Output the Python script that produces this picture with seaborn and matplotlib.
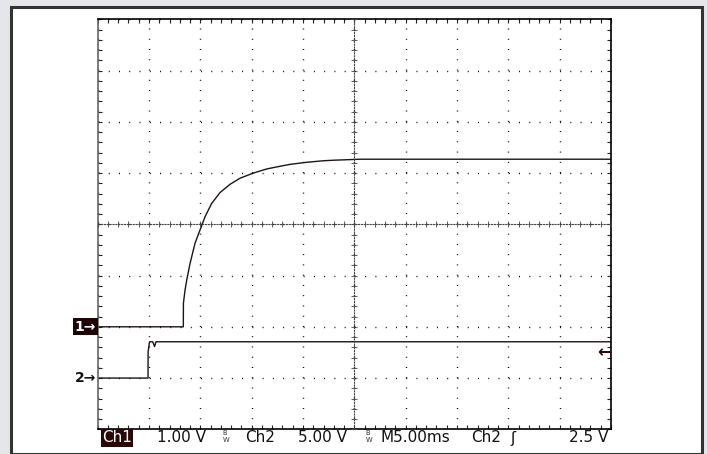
import matplotlib
matplotlib.use("Agg")
import matplotlib.pyplot as plt
import numpy as np
import pandas as pd
import seaborn as sns
from matplotlib.ticker import MultipleLocator
from matplotlib.patches import Rectangle
import matplotlib.transforms as mtransforms

# data (time in ms, volts per channel)
ch1_t = [0, 8.34, 8.35, 8.51, 8.67, 9.0, 9.48, 9.97, 10.46, 11.11, 11.92, 12.89, 13.87, 15.17,
         16.47, 17.45, 18.75, 20.37, 21.99, 22.96, 25.57, 50]
ch1_v = [0, 0, 0.46, 0.72, 0.91, 1.24, 1.63, 1.89, 2.15, 2.41, 2.62, 2.78, 2.90, 3.00,
         3.08, 3.12, 3.17, 3.21, 3.24, 3.25, 3.27, 3.27]
ch2_t = [0, 4.90, 4.91, 5.05, 5.36, 5.54, 5.68, 5.88, 50]
ch2_v = [0, 0, 2.57, 3.54, 3.54, 3.08, 3.54, 3.54, 3.54]

ch1_scale, ch2_scale = 1.00, 5.00      # V/div
ch1_pos, ch2_pos = -2, -3              # ground marker, div
trig_level = 2.5                       # V on Ch2
bottom_labels = ["1.00 V", "Ch2", "5.00 V", "M5.00ms", "Ch2", "2.5 V"]

df = pd.concat([
    pd.DataFrame({"t": ch1_t, "div": np.array(ch1_v) / ch1_scale + ch1_pos, "ch": "Ch1"}),
    pd.DataFrame({"t": ch2_t, "div": np.array(ch2_v) / ch2_scale + ch2_pos, "ch": "Ch2"}),
])

sns.set_style("white")
plt.rcParams['font.family'] = ['DejaVu Sans']

W, H = 707, 454
fig = plt.figure(figsize=(W / 100, H / 100), dpi=100)
fig.patch.set_facecolor("#e4e6e9")
# screen frame
fig.patches.append(Rectangle((11 / W, 0), (702 - 11) / W, (H - 7) / H, transform=fig.transFigure,
                             facecolor="white", edgecolor="#333333", linewidth=2.2, zorder=-10))

pos = [97.7 / W, (H - 429.3) / H, 513.3 / W, 410 / H]


def graticule(a):
    a.set_xlim(0, 50)
    a.set_ylim(-4, 4)
    a.xaxis.set_major_locator(MultipleLocator(5))
    a.xaxis.set_minor_locator(MultipleLocator(1))
    a.yaxis.set_major_locator(MultipleLocator(1))
    a.yaxis.set_minor_locator(MultipleLocator(0.2))


ax = fig.add_axes(pos)
ax.set_facecolor("none")

sns.lineplot(data=df, x="t", y="div", units="ch", estimator=None, sort=False,
             color="#1e1414", linewidth=1.0, ax=ax, legend=False)

graticule(ax)
ax.tick_params(which="both", direction="in", length=3, width=0.8, color="#222",
               top=True, right=True, bottom=True, left=True,
               labelbottom=False, labelleft=False)
ax.grid(True, which="major", linestyle=(0, (0.7, 6.685)), linewidth=1.0, color="black")
for s in ax.spines.values():
    s.set_color("black")
    s.set_linewidth(1.2)
ax.spines["left"].set_color("#666666")
ax.set_xlabel("")
ax.set_ylabel("")

# center cross of the graticule
ax2 = fig.add_axes(pos)
graticule(ax2)
ax2.patch.set_visible(False)
ax2.spines["top"].set_visible(False)
ax2.spines["right"].set_visible(False)
ax2.spines["left"].set_position(("data", 25))
ax2.spines["bottom"].set_position(("data", 0))
for s in ("left", "bottom"):
    ax2.spines[s].set_linestyle((0, (1, 1.6)))
    ax2.spines[s].set_color("#444444")
    ax2.spines[s].set_linewidth(0.8)
ax2.xaxis.set_ticks_position("bottom")
ax2.yaxis.set_ticks_position("left")
ax2.tick_params(which="both", direction="inout", length=4.5, width=0.6, color="#444",
                labelbottom=False, labelleft=False)

# channel ground markers
tr = mtransforms.blended_transform_factory(ax.transAxes, ax.transData)
ax.text(-0.003, ch1_pos, "1\u2192", transform=tr, ha="right", va="center", fontsize=10,
        fontweight="bold", color="white",
        bbox=dict(boxstyle="square,pad=0.12", facecolor="#1f0606", edgecolor="none"),
        clip_on=False)
ax.text(-0.003, ch2_pos, "2\u2192", transform=tr, ha="right", va="center", fontsize=10,
        fontweight="bold", color="#111", clip_on=False)
# trigger level marker
ax.text(1.0, trig_level / ch2_scale + ch2_pos, "\u2190", transform=tr, ha="right", va="center",
        fontsize=12, fontweight="bold", color="#2a0a0a", clip_on=False)

# status line
yb = 1 - 438 / H
fs = 11
fig.text(102 / W, yb, "Ch1", ha="left", va="center", fontsize=fs, color="white",
         bbox=dict(boxstyle="square,pad=0.08", facecolor="#2a0808", edgecolor="none"))
fig.text(157 / W, yb, bottom_labels[0], ha="left", va="center", fontsize=fs, color="#111")
fig.text(222 / W, yb + 0.004, r"$\mathregular{^B_W}$", ha="left", va="center", fontsize=7, color="#333")
fig.text(245 / W, yb, bottom_labels[1], ha="left", va="center", fontsize=fs, color="#111")
fig.text(298 / W, yb, bottom_labels[2], ha="left", va="center", fontsize=fs, color="#111")
fig.text(365 / W, yb + 0.004, r"$\mathregular{^B_W}$", ha="left", va="center", fontsize=7, color="#333")
fig.text(381 / W, yb, bottom_labels[3], ha="left", va="center", fontsize=fs, color="#111")
fig.text(471 / W, yb, bottom_labels[4], ha="left", va="center", fontsize=fs, color="#111")
fig.text(510 / W, yb, "\u0283", ha="left", va="center", fontsize=fs, color="#111")
fig.text(608 / W, yb, bottom_labels[5], ha="right", va="center", fontsize=fs, color="#111")

fig.savefig("out.png", dpi=100)
